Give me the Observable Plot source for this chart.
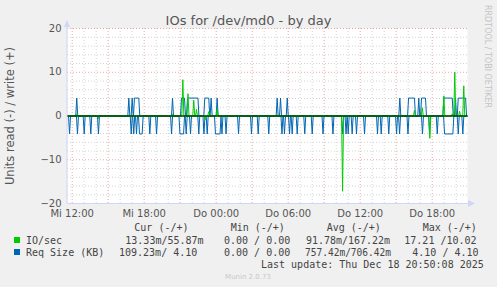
<!DOCTYPE html>
<html><head><meta charset="utf-8">
<script src="https://cdn.jsdelivr.net/npm/d3@7"></script>
<script src="https://cdn.jsdelivr.net/npm/@observablehq/plot@0.6"></script>
<style>
html,body{margin:0;padding:0;background:#f0f0f0;}
#c{position:relative;width:497px;height:287px;overflow:hidden;}
</style></head>
<body><div id="c"></div>
<script>
// ---- data (hours since Mi 00:00) ----
const xDomain = [11.61, 44.94];
const xTicks = [12, 18, 24, 30, 36, 42];
const xTickLabels = ["Mi 12:00", "Mi 18:00", "Do 00:00", "Do 06:00", "Do 12:00", "Do 18:00"];
const yTicks = [-20, -10, 0, 10, 20];

const reqSizeKB = 4.1;
// Req Size (KB) read (-): single-sample spikes and runs
const reqReadSpikes = [11.78, 12.44, 13.0, 13.55, 14.19, 16.92, 17.13, 17.36, 18.47, 19.03, 20.28,
  21.5, 21.86, 22.55, 22.98, 23.25, 24.48, 24.82, 25.86, 26.94, 27.5, 28.38, 29.48, 29.69,
  30.11, 30.33, 30.75, 31.38, 32.0, 32.9, 33.73, 34.53, 34.82, 35.0, 35.33, 35.69, 36.36,
  37.44, 37.75, 38.38, 39.03, 39.28, 39.98, 41.19, 41.78, 42.42, 44.17, 44.55];
const reqReadRuns = [[17.61, 17.83], [20.98, 21.28], [23.94, 24.32], [43.03, 43.72]];
// Req Size (KB) write (+)
const reqWriteSpikes = [12.38, 16.72, 17.0, 20.36, 23.58, 24.08, 29.08, 29.36, 29.92, 39.3, 40.88, 43.94];
const reqWriteRuns = [[17.19, 17.55], [21.11, 21.36], [21.61, 22.48], [23.05, 23.38],
  [40.03, 40.52], [41.11, 41.44], [42.97, 43.67], [44.17, 44.78]];
// IO/sec write (+) peaks [hour, value]
const ioWritePeaks = [[12.4, 0.5], [20.36, 0.4], [21.22, 8.3], [21.65, 5.1], [22.13, 3.6], [22.36, 1.5],
  [23.38, 1.0], [24.08, 1.6], [40.52, 1.3], [41.17, 1.9], [42.97, 4.6], [43.67, 0.5],
  [43.88, 10.02], [44.28, 1.1], [44.63, 6.9]];
// IO/sec read (-) peaks [hour, value]
const ioReadPeaks = [[14.19, -0.6], [23.1, -0.8], [34.53, -17.21], [41.8, -5.1]];

const seriesNames = ["IO/sec", "Req Size (KB)"];
const seriesColors = ["#00cc00", "#0066b3"];
const legendHeaders = ["Cur (-/+)", "Min (-/+)", "Avg (-/+)", "Max (-/+)"];
const curText = ["13.33m/55.87m", "109.23m/ 4.10"];
const minText = ["0.00 / 0.00", "0.00 / 0.00"];
const avgText = ["91.78m/167.22m", "757.42m/706.42m"];
const maxText = ["17.21 /10.02", "4.10 / 4.10"];
const titleText = "IOs for /dev/md0 - by day";
const yLabelText = "Units read (-) / write (+)";
const lastUpdateText = "Last update: Thu Dec 18 20:50:08 2025";
const muninText = "Munin 2.0.73";
const watermarkText = "RRDTOOL / TOBI OETIKER";

// ---- build line tables from the read values ----
const step = 1 / 12; // one 5-minute sample
function fromEvents(spikes, runs, v) {
  const ev = [...spikes.map(t => [t, t]), ...runs].sort((p, q) => p[0] - q[0]);
  const pts = [{t: xDomain[0], v: 0}];
  for (const [a, b] of ev) {
    pts.push({t: a - step, v: 0}, {t: a, v});
    if (b > a) pts.push({t: b, v});
    pts.push({t: b + step, v: 0});
  }
  pts.push({t: xDomain[1], v: 0});
  return pts;
}
function fromPeaks(peaks) {
  const pts = [{t: xDomain[0], v: 0}];
  for (const [t, v] of [...peaks].sort((p, q) => p[0] - q[0])) {
    pts.push({t: t - step, v: 0}, {t, v}, {t: t + step, v: 0});
  }
  pts.push({t: xDomain[1], v: 0});
  return pts;
}
const reqRead = fromEvents(reqReadSpikes, reqReadRuns, -reqSizeKB);
const reqWrite = fromEvents(reqWriteSpikes, reqWriteRuns, reqSizeKB);
const ioWrite = fromPeaks(ioWritePeaks);
const ioRead = fromPeaks(ioReadPeaks);

const hourGrid = d3.range(12, 45, 1).filter(h => h % 3 !== 0);
const hourMajor = d3.range(12, 45, 3);
const yMinor = d3.range(-18, 20, 2).filter(v => v % 10 !== 0);
const yMajor = [-20, -10, 10, 20];

const chart = Plot.plot({
  width: 497, height: 287,
  marginLeft: 67, marginRight: 30, marginTop: 28, marginBottom: 84,
  style: {background: "transparent", fontFamily: "DejaVu Sans", fontSize: "10px", color: "#555", overflow: "visible"},
  x: {domain: xDomain},
  y: {domain: [-20, 20]},
  marks: [
    Plot.frame({fill: "white", stroke: null}),
    Plot.ruleX(hourGrid, {stroke: "#d4d4d4", strokeDasharray: "1,2"}),
    Plot.ruleX(hourMajor, {stroke: "#e8a8a8", strokeDasharray: "1,2"}),
    Plot.ruleY(yMinor, {stroke: "#d4d4d4", strokeDasharray: "1,2"}),
    Plot.ruleY(yMajor, {stroke: "#e8a8a8", strokeDasharray: "1,2"}),
    Plot.axisY({ticks: yTicks, tickSize: 0, tickPadding: 6, label: null, fill: "#555"}),
    Plot.axisX({ticks: xTicks, tickFormat: d => xTickLabels[xTicks.indexOf(d)], tickSize: 0, tickPadding: 6, label: null, fill: "#555"}),
    Plot.line(reqRead, {x: "t", y: "v", stroke: seriesColors[1], strokeWidth: 1}),
    Plot.line(reqWrite, {x: "t", y: "v", stroke: seriesColors[1], strokeWidth: 1}),
    Plot.line(ioRead, {x: "t", y: "v", stroke: seriesColors[0], strokeWidth: 1}),
    Plot.line(ioWrite, {x: "t", y: "v", stroke: seriesColors[0], strokeWidth: 1}),
    Plot.ruleY([0], {stroke: "#000", strokeWidth: 1})
  ]
});
document.getElementById("c").appendChild(chart);

// ---- decorations: axes arrows, title, legend ----
const svg = d3.select(chart);
const g = svg.append("g");
const axisCol = "#cfd6f8";
g.append("line").attr("x1", 67).attr("x2", 67).attr("y1", 203).attr("y2", 24).attr("stroke", axisCol);
g.append("path").attr("d", "M64,27L70,27L67,20Z").attr("fill", axisCol);
g.append("line").attr("x1", 67).attr("x2", 471).attr("y1", 203.5).attr("y2", 203.5).attr("stroke", axisCol);
g.append("path").attr("d", "M468,200L468,207L475,203.5Z").attr("fill", axisCol);

function t(x, y, s, o = {}) {
  const e = g.append("text").attr("x", x).attr("y", y).text(s)
    .attr("font-family", o.ff || "DejaVu Sans Mono").attr("font-size", o.fs || 10)
    .attr("fill", o.fill || "#444").attr("text-anchor", o.anchor || "start");
  if (o.tr) e.attr("transform", o.tr);
  if (o.len) e.attr("textLength", o.len).attr("lengthAdjust", "spacingAndGlyphs");
  return e;
}
t(248.5, 25, titleText, {ff: "DejaVu Sans", fs: 13, fill: "#555", anchor: "middle"});
t(0, 0, yLabelText, {ff: "DejaVu Sans", fs: 11.5, fill: "#555", anchor: "middle", tr: "translate(14,116) rotate(-90)"});
t(0, 0, watermarkText, {ff: "DejaVu Sans", fs: 8, fill: "#c4c4c4", tr: "translate(484.5,5) rotate(90)"});

const hx = [134.3, 230.7, 326.7, 422.7];
legendHeaders.forEach((h, i) => t(hx[i], 231, h));
const rowY = [243.5, 255.5];
seriesNames.forEach((n, i) => {
  g.append("rect").attr("x", 14).attr("y", rowY[i] - 6.5).attr("width", 6).attr("height", 6).attr("fill", seriesColors[i]);
  t(26, rowY[i], n);
});
t(125.3, rowY[0], curText[0]); t(119, rowY[1], curText[1]);
t(224, rowY[0], minText[0]); t(224, rowY[1], minText[1]);
t(306, rowY[0], avgText[0], {len: 84}); t(305, rowY[1], avgText[1], {len: 86});
t(404.3, rowY[0], maxText[0]); t(412.3, rowY[1], maxText[1]);
t(261, 267.5, lastUpdateText);
t(248, 279, muninText, {ff: "DejaVu Sans", fs: 7, fill: "#c8c8c8", anchor: "middle"});
</script></body></html>
